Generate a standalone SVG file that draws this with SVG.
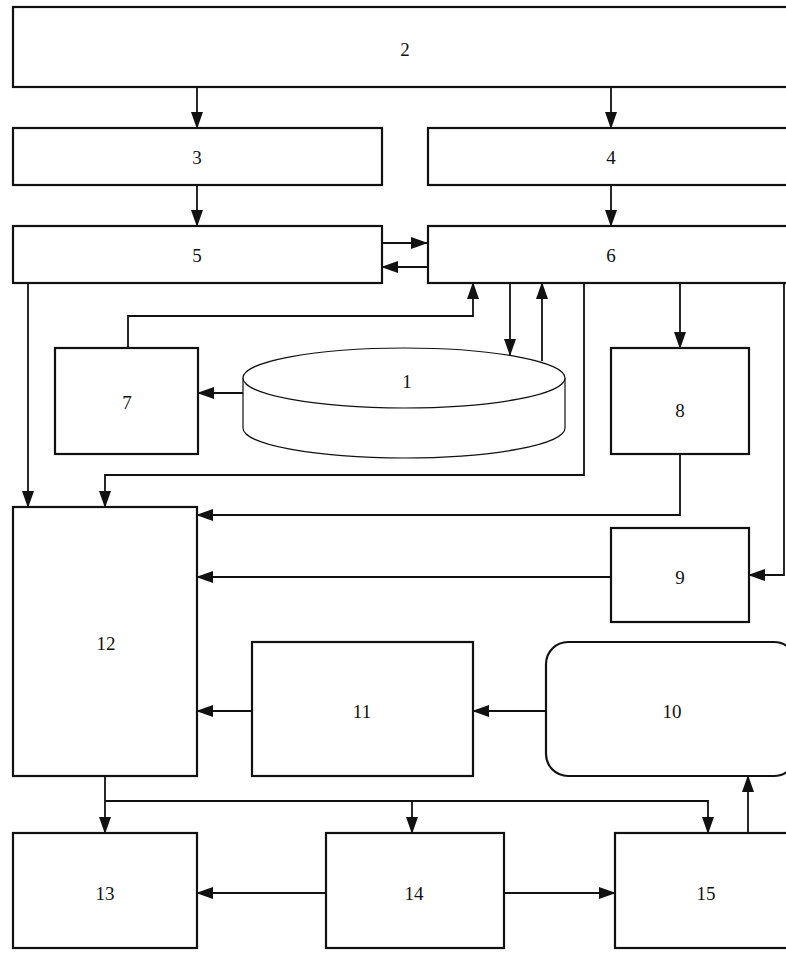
<svg xmlns="http://www.w3.org/2000/svg" width="786" height="953" viewBox="0 0 786 953">
<style>
.box{fill:#fff;stroke:#111;stroke-width:2.2}
.cyl{fill:#fff;stroke:#111;stroke-width:1.2}
.ln{fill:none;stroke:#111;stroke-width:1.8}
.t{font-family:"Liberation Serif","Times New Roman",serif;font-size:19px;fill:#111;text-anchor:middle;dominant-baseline:central}
</style>
<defs>
<marker id="ah" markerUnits="userSpaceOnUse" markerWidth="17" markerHeight="12" viewBox="0 0 17 12" refX="16" refY="6" orient="auto">
<path d="M0,0 L17,6 L0,12 Z" fill="#111"/>
</marker>
</defs>
<rect x="0" y="0" width="786" height="953" fill="#fff"/>
<g id="connectors">
<line class="ln" x1="197" y1="87" x2="197" y2="128" marker-end="url(#ah)"/>
<line class="ln" x1="611" y1="87" x2="611" y2="128" marker-end="url(#ah)"/>
<line class="ln" x1="197" y1="185" x2="197" y2="226" marker-end="url(#ah)"/>
<line class="ln" x1="611" y1="185" x2="611" y2="226" marker-end="url(#ah)"/>
<line class="ln" x1="382" y1="243" x2="427" y2="243" marker-end="url(#ah)"/>
<line class="ln" x1="427" y1="267" x2="382" y2="267" marker-end="url(#ah)"/>
<line class="ln" x1="28" y1="283" x2="28" y2="507" marker-end="url(#ah)"/>
<path class="ln" d="M128 348 V316 H473 V283" marker-end="url(#ah)"/>
<line class="ln" x1="510" y1="283" x2="510" y2="355" marker-end="url(#ah)"/>
<line class="ln" x1="542" y1="361" x2="542" y2="283" marker-end="url(#ah)"/>
<path class="ln" d="M584 283 V475 H105 V507" marker-end="url(#ah)"/>
<line class="ln" x1="680" y1="283" x2="680" y2="348" marker-end="url(#ah)"/>
<path class="ln" d="M680 454 V515 H197" marker-end="url(#ah)"/>
<path class="ln" d="M784 283 V575 H749" marker-end="url(#ah)"/>
<line class="ln" x1="243" y1="393" x2="198" y2="393" marker-end="url(#ah)"/>
<line class="ln" x1="611" y1="577" x2="197" y2="577" marker-end="url(#ah)"/>
<line class="ln" x1="252" y1="711" x2="197" y2="711" marker-end="url(#ah)"/>
<line class="ln" x1="546" y1="711" x2="473" y2="711" marker-end="url(#ah)"/>
<line class="ln" x1="105" y1="776" x2="105" y2="833" marker-end="url(#ah)"/>
<path class="ln" d="M105 801 H708 V833" marker-end="url(#ah)"/>
<line class="ln" x1="412" y1="801" x2="412" y2="833" marker-end="url(#ah)"/>
<line class="ln" x1="748" y1="833" x2="748" y2="776" marker-end="url(#ah)"/>
<line class="ln" x1="326" y1="893" x2="197" y2="893" marker-end="url(#ah)"/>
<line class="ln" x1="504" y1="893" x2="615" y2="893" marker-end="url(#ah)"/>
</g>
<g id="n2"><rect class="box" x="13" y="7" width="800" height="80"/><text class="t" x="405" y="49">2</text></g>
<g id="n3"><rect class="box" x="13" y="128" width="369" height="57"/><text class="t" x="197" y="157">3</text></g>
<g id="n4"><rect class="box" x="428" y="128" width="380" height="57"/><text class="t" x="611" y="157">4</text></g>
<g id="n5"><rect class="box" x="13" y="226" width="369" height="57"/><text class="t" x="197" y="255">5</text></g>
<g id="n6"><rect class="box" x="428" y="226" width="380" height="57"/><text class="t" x="611" y="255">6</text></g>
<g id="n7"><rect class="box" x="55" y="348" width="143" height="106"/><text class="t" x="127" y="402">7</text></g>
<g id="n1">
<path class="cyl" d="M243 378 V428 A161 30 0 0 0 565 428 V378"/>
<ellipse class="cyl" cx="404" cy="378" rx="161" ry="30"/>
<text class="t" x="407" y="381">1</text>
</g>
<g id="n8"><rect class="box" x="611" y="348" width="138" height="106"/><text class="t" x="680" y="410">8</text></g>
<g id="n9"><rect class="box" x="611" y="528" width="138" height="94"/><text class="t" x="680" y="577">9</text></g>
<g id="n12"><rect class="box" x="13" y="507" width="184" height="269"/><text class="t" x="106" y="643">12</text></g>
<g id="n11"><rect class="box" x="252" y="642" width="221" height="134"/><text class="t" x="362" y="711">11</text></g>
<g id="n10"><rect class="box" x="546" y="642" width="250" height="134" rx="22" ry="22"/><text class="t" x="672" y="711">10</text></g>
<g id="n13"><rect class="box" x="13" y="833" width="184" height="115"/><text class="t" x="105" y="893">13</text></g>
<g id="n14"><rect class="box" x="326" y="833" width="178" height="115"/><text class="t" x="414" y="893">14</text></g>
<g id="n15"><rect class="box" x="615" y="833" width="200" height="115"/><text class="t" x="706" y="893">15</text></g>
</svg>
